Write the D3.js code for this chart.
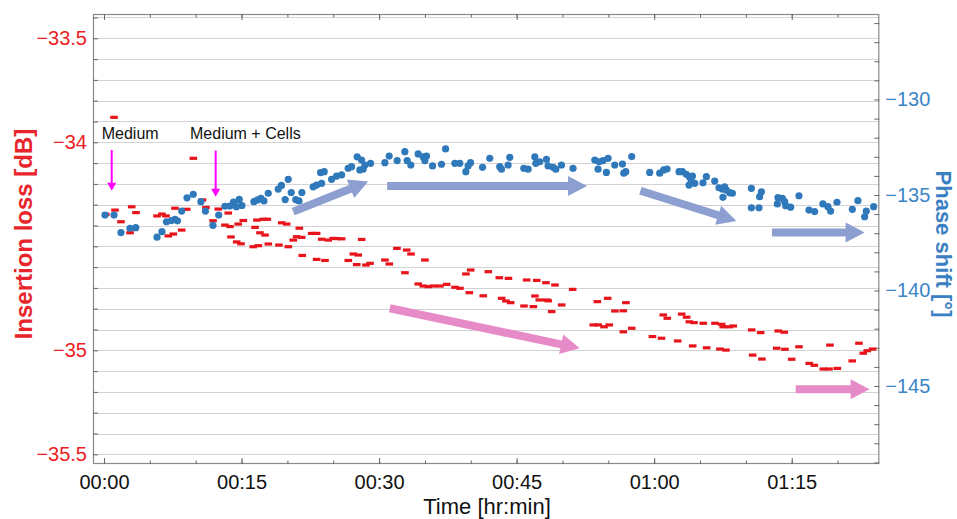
<!DOCTYPE html>
<html><head><meta charset="utf-8">
<script src="https://cdn.jsdelivr.net/npm/d3@7"></script>
<style>body{margin:0;background:#fff}svg{display:block;font-family:"Liberation Sans",Arial,Helvetica,sans-serif}</style>
</head><body><svg id="c" width="957" height="519"></svg>
<script>
// ---- data (time in minutes) ----
const timeTicks = [0, 15, 30, 45, 60, 75];
const timeLabels = ["00:00", "00:15", "00:30", "00:45", "01:00", "01:15"];
const timeMinorTicks = [0,5,10,15,20,25,30,35,40,45,50,55,60,65,70,75,80];
const lossTicksLabeled = [-33.5, -34, -35, -35.5];
const phaseTicksLabeled = [-130, -135, -140, -145];

// insertion loss [dB]
const insertionLoss = [
[0.19,-34.346],[1.09,-33.880],[1.20,-34.326],[1.85,-34.382],[2.84,-34.435],[3.02,-34.310],[3.49,-34.338],
[5.78,-34.354],[6.32,-34.345],[6.76,-34.354],[7.01,-34.450],[7.56,-34.441],[7.74,-34.317],[8.47,-34.422],[9.02,-34.322],[9.74,-34.077],
[10.74,-34.277],[11.12,-34.313],[11.89,-34.377],[12.46,-34.321],[13.19,-34.398],[13.55,-34.340],[13.74,-34.405],[13.85,-34.455],[14.47,-34.479],[14.64,-34.393],[14.94,-34.488],[15.19,-34.376],
[16.28,-34.502],[16.47,-34.409],[16.68,-34.374],[16.83,-34.497],[17.01,-34.435],[17.37,-34.370],[17.56,-34.446],[17.81,-34.370],[17.92,-34.489],[19.08,-34.494],[19.38,-34.387],[19.92,-34.393],[20.10,-34.502],[20.64,-34.470],[21.01,-34.454],[21.30,-34.413],[21.56,-34.457],[21.62,-34.544],
[22.65,-34.438],[23.19,-34.438],[23.19,-34.563],[23.74,-34.466],[24.10,-34.568],[24.46,-34.470],[25.00,-34.462],[25.38,-34.463],[25.92,-34.464],
[26.64,-34.568],[27.19,-34.537],[27.56,-34.588],[27.73,-34.542],[28.10,-34.467],[28.57,-34.590],[29.01,-34.582],
[30.64,-34.566],[31.11,-34.585],[31.95,-34.510],[32.82,-34.627],[33.01,-34.518],[33.48,-34.537],[34.27,-34.681],[34.82,-34.691],[35.00,-34.566],[35.37,-34.694],[35.91,-34.691],[36.64,-34.691],[37.37,-34.683],[38.28,-34.697],[38.82,-34.702],
[39.47,-34.633],[39.84,-34.723],[39.99,-34.614],[41.36,-34.738],[41.91,-34.622],[43.11,-34.651],[43.37,-34.750],[43.84,-34.763],[44.11,-34.654],[44.35,-34.771],[45.80,-34.787],[46.09,-34.662],[46.82,-34.790],[47.00,-34.739],[47.19,-34.664],[47.47,-34.758],[48.20,-34.675],[48.28,-34.758],[48.45,-34.762],[48.82,-34.814],[49.18,-34.686],[49.91,-34.782],[51.11,-34.707],
[53.36,-34.878],[53.80,-34.766],[53.90,-34.878],[54.53,-34.887],[54.93,-34.750],[55.10,-34.878],[55.72,-34.811],[56.63,-34.810],[56.63,-34.911],[56.92,-34.771],[57.55,-34.894],
[59.81,-34.934],[60.80,-34.942],[60.99,-34.830],[61.43,-34.846],[62.56,-34.955],[63.00,-34.826],[63.54,-34.841],[63.83,-34.863],[64.20,-34.979],[64.34,-34.867],[65.35,-34.870],[65.72,-34.988],[66.63,-34.870],[67.17,-34.994],[67.36,-34.875],[67.53,-34.887],[67.83,-34.999],[68.19,-34.887],[68.62,-34.883],
[70.63,-34.902],[70.74,-35.023],[71.61,-34.915],[71.75,-35.042],[73.36,-34.990],[73.53,-34.907],[74.19,-34.913],[74.26,-34.995],[74.99,-35.043],[75.79,-34.983],[76.91,-35.063],[77.46,-35.072],[78.44,-35.090],[79.06,-35.090],[79.17,-34.975],[79.97,-35.087],[81.60,-35.051],[82.33,-34.966],[82.80,-35.014],[83.24,-35.002],[83.82,-34.994]
];

// phase shift [deg]
const phaseShift = [
[0.11,-136.05],[1.09,-136.05],[1.85,-136.97],[2.83,-136.74],[3.46,-136.71],
[5.78,-137.21],[6.32,-136.92],[6.81,-136.40],[7.36,-136.34],[7.74,-136.27],[8.01,-136.35],[8.47,-135.84],[9.05,-135.15],[9.73,-134.96],[10.57,-135.35],[11.06,-135.84],[11.88,-136.59],[12.51,-136.05],[13.19,-135.59],[13.73,-135.58],[14.12,-135.37],[14.44,-135.61],[14.75,-135.23],[15.04,-135.55],
[16.35,-135.35],[16.73,-135.26],[17.11,-135.17],[17.44,-135.31],[17.91,-134.91],[19.00,-134.69],[19.35,-134.50],[19.76,-135.24],[20.09,-134.18],[20.42,-134.87],[20.91,-135.24],[21.26,-135.31],[21.58,-134.87],
[22.81,-134.57],[23.18,-134.48],[23.73,-134.39],[23.62,-133.83],[24.01,-133.78],[24.82,-134.18],[25.36,-134.01],[25.91,-133.95],[26.63,-133.60],[27.00,-133.52],[27.61,-133.00],[27.90,-133.69],[28.09,-133.17],[28.26,-133.65],[28.45,-133.43],[29.07,-133.34],
[30.63,-133.31],[31.10,-132.96],[31.97,-133.20],[32.81,-132.73],[33.06,-133.20],[33.46,-133.43],[34.26,-132.85],[34.80,-133.00],[35.17,-132.96],[34.99,-133.20],[35.83,-133.48],[36.81,-133.39],[37.25,-132.59],[38.26,-133.34],[38.80,-133.34],[39.46,-133.78],[39.71,-133.48],[39.97,-133.31],
[41.28,-133.55],[42.07,-133.08],[43.16,-133.52],[43.35,-133.65],[44.07,-133.43],[44.25,-133.03],[45.78,-133.60],[46.25,-133.65],[46.98,-133.00],[47.09,-133.34],[47.52,-133.26],[48.25,-133.13],[48.43,-133.48],[48.97,-133.55],[49.27,-133.65],[49.89,-133.43],[51.15,-133.60],
[53.52,-133.17],[53.88,-133.65],[53.99,-133.26],[54.42,-133.20],[54.79,-133.82],[54.97,-133.08],[55.70,-133.43],[56.54,-133.38],[56.68,-133.86],[56.90,-133.78],[57.55,-132.99],
[59.51,-133.82],[60.60,-133.86],[61.04,-133.69],[61.40,-133.64],[62.71,-133.78],[63.08,-133.78],[63.51,-133.92],[63.87,-134.07],[64.17,-134.01],[63.80,-134.48],[64.42,-134.39],[64.06,-134.30],[65.32,-134.36],[65.69,-134.04],[66.60,-134.27],[67.07,-134.62],[67.44,-134.70],[67.69,-134.57],[67.87,-134.74],[67.50,-135.12],[68.23,-134.88],[68.53,-134.91],
[70.60,-134.65],[71.69,-134.83],[71.50,-135.09],[70.60,-135.67],[71.43,-135.67],[73.43,-135.47],[73.50,-135.14],[73.98,-135.17],[74.23,-135.35],[74.34,-135.56],[74.88,-135.64],[75.79,-135.04],[76.88,-135.79],[77.50,-135.87],[78.40,-135.47],[78.95,-135.61],[79.24,-135.84],[79.93,-135.38],[81.61,-135.75],[82.22,-135.30],[82.95,-136.14],[83.13,-135.84],[83.93,-135.61]
];

// trend arrows: [t0, v0, t1, v1]
const phaseArrows = [
[20.63,-135.87,28.81,-134.30],
[30.88,-134.53,52.68,-134.53],
[58.50,-134.78,68.96,-136.36],
[72.84,-136.97,82.95,-136.97]
];
const lossArrows = [
[31.17,-34.798,51.88,-34.990],
[75.43,-35.1875,83.49,-35.1875]
];
// event markers
const eventLabels = ["Medium", "Medium + Cells"];
const eventTextTime = [-0.25, 9.38];
const eventArrowTime = [0.84, 12.18];
const eventTextLoss = [-33.9865, -33.9865];
const eventArrowStart = [-34.037, -34.040];
const eventArrowEnd = [-34.233, -34.262];

// ---- scales ----
const svg = d3.select("#c");
const L = 93, R = 879.3, T = 14, B = 464;
const x = d3.scaleLinear().domain([-1.2, 84.55]).range([L, R]);
const yL = d3.scaleLinear().domain([-35.5466, -33.3832]).range([B, T]);
const yR = d3.scaleLinear().domain([-149.084, -125.524]).range([B, T]);

const red = "#e8141c", blue = "#2f79bb", redText = "#ee1c24", blueText = "#3a85c6", axisCol = "#8a8a8a";

// gridlines
const gridVals = d3.range(-355, -333).map(d => d / 10);
svg.append("g").selectAll("line").data(gridVals).join("line")
  .attr("x1", L).attr("x2", R).attr("y1", d => Math.round(yL(d)) + 0.5).attr("y2", d => Math.round(yL(d)) + 0.5)
  .attr("stroke", "#d3d3d3").attr("stroke-width", 1);

// frame
svg.append("rect").attr("x", L + 0.5).attr("y", T + 0.5).attr("width", R - L - 1).attr("height", B - T - 1)
  .attr("fill", "none").attr("stroke", axisCol).attr("stroke-width", 1.2);

// axes via d3
svg.append("g").attr("transform", `translate(0,${B})`)
  .call(d3.axisTop(x).tickValues(timeMinorTicks).tickSize(3.5).tickFormat(""));
const gB2 = svg.append("g").attr("transform", `translate(0,${B})`)
  .call(d3.axisBottom(x).tickValues(timeTicks).tickSize(0).tickPadding(11).tickFormat((d, i) => timeLabels[i]));
svg.append("g").attr("transform", `translate(0,${B})`)
  .call(d3.axisTop(x).tickValues(timeTicks).tickSize(6).tickFormat(""));
svg.append("g").attr("transform", `translate(0,${T})`)
  .call(d3.axisBottom(x).tickValues(timeMinorTicks).tickSize(3.5).tickFormat(""));
svg.append("g").attr("transform", `translate(0,${T})`)
  .call(d3.axisBottom(x).tickValues(timeTicks).tickSize(6).tickFormat(""));

svg.append("g").attr("transform", `translate(${L},0)`)
  .call(d3.axisRight(yL).tickValues(gridVals).tickSize(5).tickFormat(""));
svg.append("g").attr("transform", `translate(${L},0)`)
  .call(d3.axisLeft(yL).tickValues(lossTicksLabeled).tickSize(0).tickPadding(6).tickFormat(d3.format("")))
  .selectAll("text").attr("fill", redText);

const phaseMinor = d3.range(-149, -125);
svg.append("g").attr("transform", `translate(${R},0)`)
  .call(d3.axisLeft(yR).tickValues(phaseMinor).tickSize(5).tickFormat(""));
svg.append("g").attr("transform", `translate(${R},0)`)
  .call(d3.axisRight(yR).tickValues(phaseTicksLabeled).tickSize(0).tickPadding(6).tickFormat(d3.format("")))
  .selectAll("text").attr("fill", blueText);

svg.selectAll(".domain").remove();
svg.selectAll(".tick line").attr("stroke", "#666");
svg.selectAll(".tick text").attr("font-size", 20).attr("font-family", '"Liberation Sans",Arial,sans-serif');
gB2.selectAll("text").attr("fill", "#111");

// axis titles
svg.append("text").attr("transform", "translate(487,514)").attr("text-anchor", "middle")
  .attr("font-size", 22).attr("fill", "#111").text("Time [hr:min]");
svg.append("text").attr("transform", "translate(31.5,234) rotate(-90)").attr("text-anchor", "middle")
  .attr("font-size", 24).attr("font-weight", "bold").attr("fill", "#e8252c").text("Insertion loss [dB]");
svg.append("text").attr("transform", "translate(936,244) rotate(90)").attr("text-anchor", "middle")
  .attr("font-size", 22).attr("font-weight", "bold").attr("fill", "#3a80c2").text("Phase shift [°]");

// thick arrows
function arrowPath(x0, y0, x1, y1, w, hl, hw) {
  const dx = x1 - x0, dy = y1 - y0, len = Math.hypot(dx, dy);
  const ux = dx / len, uy = dy / len, nx = -uy, ny = ux;
  const bx = x1 - ux * hl, by = y1 - uy * hl;
  const p = [
    [x0 + nx * w / 2, y0 + ny * w / 2], [bx + nx * w / 2, by + ny * w / 2], [bx + nx * hw / 2, by + ny * hw / 2],
    [x1, y1], [bx - nx * hw / 2, by - ny * hw / 2], [bx - nx * w / 2, by - ny * w / 2], [x0 - nx * w / 2, y0 - ny * w / 2]];
  return "M" + p.map(q => q.join(",")).join("L") + "Z";
}
svg.append("g").selectAll("path").data(phaseArrows).join("path")
  .attr("d", d => arrowPath(x(d[0]), yR(d[1]), x(d[2]), yR(d[3]), 8, 19, 20))
  .attr("fill", "#8d9ed1");
svg.append("g").selectAll("path").data(lossArrows).join("path")
  .attr("d", d => arrowPath(x(d[0]), yL(d[1]), x(d[2]), yL(d[3]), 8, 19, 20))
  .attr("fill", "#e78bc8");

// data marks
svg.append("g").selectAll("rect").data(insertionLoss).join("rect")
  .attr("x", d => x(d[0]) - 3.8).attr("y", d => yL(d[1]) - 1.6).attr("width", 7.6).attr("height", 3.2)
  .attr("fill", red);
svg.append("g").selectAll("circle").data(phaseShift).join("circle")
  .attr("cx", d => x(d[0])).attr("cy", d => yR(d[1])).attr("r", 3.6)
  .attr("fill", blue);

// event annotations
const ev = svg.append("g");
eventLabels.forEach((lab, i) => {
  ev.append("text").attr("x", x(eventTextTime[i])).attr("y", yL(eventTextLoss[i]))
    .attr("font-size", 16).attr("fill", "#111").text(lab);
  const ax = x(eventArrowTime[i]), a0 = yL(eventArrowStart[i]), a1 = yL(eventArrowEnd[i]);
  ev.append("line").attr("x1", ax).attr("x2", ax).attr("y1", a0).attr("y2", a1 - 6)
    .attr("stroke", "#ff00ff").attr("stroke-width", 2);
  ev.append("path").attr("d", `M${ax - 4.5},${a1 - 8}L${ax + 4.5},${a1 - 8}L${ax},${a1}Z`).attr("fill", "#ff00ff");
});
</script></body></html>
